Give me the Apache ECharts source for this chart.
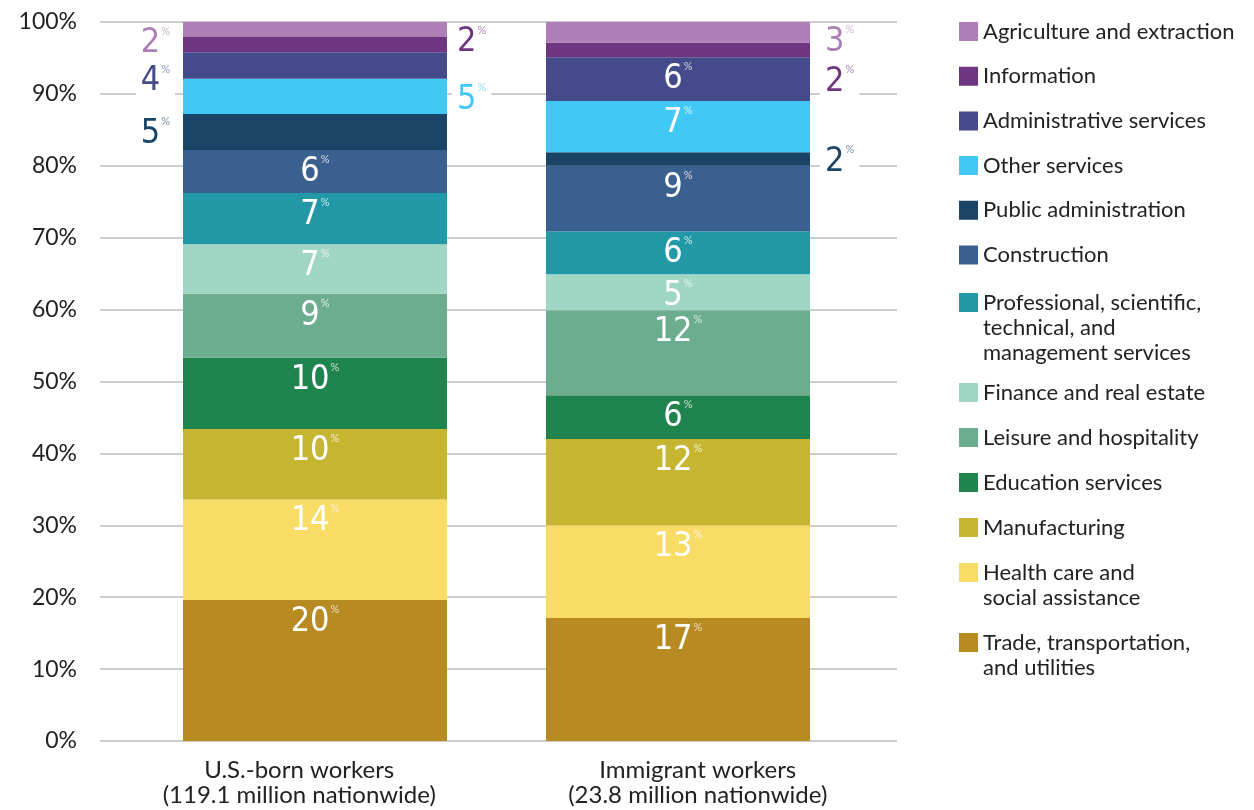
<!DOCTYPE html>
<html>
<head>
<meta charset="utf-8">
<script src="https://cdn.jsdelivr.net/npm/echarts@6/dist/echarts.min.js"></script>
<style>
  html, body { margin: 0; padding: 0; background: #fff; }
  #main { width: 1254px; height: 810px; }
</style>
</head>
<body>
<div id="main"></div>
<script>
const categories = ['U.S.-born workers\n(119.1 million nationwide)', 'Immigrant workers\n(23.8 million nationwide)'];

// stacked bottom -> top
const industries = [
  'Trade, transportation, and utilities',
  'Health care and social assistance',
  'Manufacturing',
  'Education services',
  'Leisure and hospitality',
  'Finance and real estate',
  'Professional, scientific, technical, and management services',
  'Construction',
  'Public administration',
  'Other services',
  'Administrative services',
  'Information',
  'Agriculture and extraction'
];
const usBorn =    [19.6, 14.0, 9.8, 9.9, 8.9, 6.9, 7.1, 6.0, 5.0, 4.9, 3.7, 2.1, 2.1];
const immigrant = [17.1, 12.9, 12.0, 6.1, 11.8, 5.0, 6.0, 9.1, 1.9, 7.1, 6.1, 2.0, 2.9];
const colors = ['#B88A22', '#F8DC66', '#C6B530', '#1F844E', '#6BAD8E', '#A0D7C4',
  '#2399A8', '#3A6090', '#1A4466', '#42C8F4', '#444A8A', '#6E3580', '#AD7FB6'];

const legendWrap = {
  'Trade, transportation, and utilities': 'Trade, transportation,\nand utilities',
  'Health care and social assistance': 'Health care and\nsocial assistance',
  'Professional, scientific, technical, and management services': 'Professional, scientific,\ntechnical, and\nmanagement services'
};

// small segments labelled beside the bar: [side, vertical shift] per category
const outside = {
  'Agriculture and extraction': [['left', 14], ['right', 10]],
  'Information': [['right', -2], ['right', 32]],
  'Administrative services': [['left', 16], null],
  'Other services': [['right', 4], null],
  'Public administration': [['left', 2], ['right', 3]]
};

const numFont = '"Liberation Sans Narrow", "DejaVu Sans Condensed", "Roboto", sans-serif';

function fade(hex, a) {
  const n = parseInt(hex.slice(1), 16);
  return 'rgba(' + (n >> 16) + ',' + ((n >> 8) & 255) + ',' + (n & 255) + ',' + a + ')';
}

function richFor(color, pctColor) {
  return {
    n: { fontFamily: numFont, fontSize: 34, lineHeight: 36, color: color },
    p: { fontFamily: 'Lato', fontSize: 11, lineHeight: 22, verticalAlign: 'top', color: pctColor, padding: [0, 0, 0, 1] }
  };
}

const series = industries.map(function (name, i) {
  const vals = [usBorn[i], immigrant[i]];
  const data = vals.map(function (v, c) {
    const o = outside[name] && outside[name][c];
    if (!o) return v;
    return {
      value: v,
      label: {
        position: o[0],
        distance: o[0] === 'left' ? 8 : (c === 0 ? 5 : 10),
        offset: [0, o[1]],
        backgroundColor: '#fff',
        padding: [0, 5],
        rich: richFor(colors[i], fade(colors[i], 0.6))
      }
    };
  });
  return {
    name: name,
    type: 'bar',
    stack: 'total',
    xAxisIndex: 1,
    yAxisIndex: 1,
    barWidth: 264,
    itemStyle: { color: colors[i] },
    label: {
      show: true,
      position: 'insideTop',
      distance: 4,
      formatter: function (p) { return '{n|' + Math.round(p.value) + '}{p|%}'; },
      rich: richFor('#fff', 'rgba(255,255,255,0.75)')
    },
    data: data
  };
});

// legend split in blocks so multi-line entries keep the swatch on the first line
const legendOrder = industries.slice().reverse();
const legendBlocks = [
  { from: 0, to: 6, top: 19, lines: 1, gap: 19.7 },
  { from: 6, to: 7, top: 290, lines: 3, gap: 20 },
  { from: 7, to: 11, top: 380, lines: 1, gap: 20 },
  { from: 11, to: 13, top: 560, lines: 2, gap: 20 }
];
const legends = legendBlocks.map(function (b) {
  const h = 19 + 25 * (b.lines - 1);
  return {
    orient: 'vertical',
    left: 959,
    top: b.top,
    padding: 0,
    itemWidth: 19,
    itemHeight: h,
    itemGap: b.gap,
    icon: 'path://M0 0H19V19H0ZM0 ' + h + 'H19',
    selectedMode: false,
    formatter: function (name) { return legendWrap[name] || name; },
    textStyle: { fontFamily: 'Lato', fontSize: 22, lineHeight: 25, color: '#222' },
    data: legendOrder.slice(b.from, b.to)
  };
});

const chart = echarts.init(document.getElementById('main'));
chart.setOption({
  animation: false,
  grid: [
    { left: 100, right: 357, top: 22, bottom: 69 },
    { left: 133.5, right: 394.5, top: 22, bottom: 69 }
  ],
  xAxis: [
    {
      type: 'category', gridIndex: 0, data: categories,
      axisLine: { show: false }, axisTick: { show: false },
      axisLabel: { fontFamily: 'Lato', fontSize: 24, lineHeight: 25, color: '#222', margin: 17 }
    },
    { type: 'category', gridIndex: 1, data: categories, show: false }
  ],
  yAxis: [
    {
      type: 'value', gridIndex: 0, min: 0, max: 100, interval: 10,
      axisLine: { show: false }, axisTick: { show: false },
      axisLabel: { formatter: '{value}%', fontFamily: 'Lato', fontSize: 23, color: '#222', margin: 23 },
      splitLine: { lineStyle: { color: '#bdbdbd', width: 1.5 } }
    },
    { type: 'value', gridIndex: 1, min: 0, max: 100, show: false }
  ],
  legend: legends,
  series: series
});
</script>
</body>
</html>
